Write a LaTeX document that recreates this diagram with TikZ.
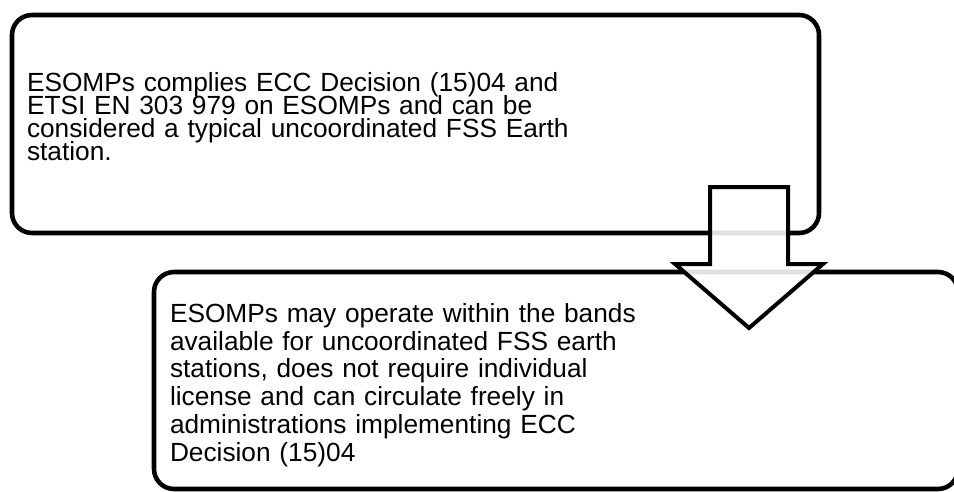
\documentclass[tikz,border=0pt]{standalone}
\usepackage{fontspec}
\setmainfont{Liberation Sans}
\usetikzlibrary{positioning}

\tikzset{
  infobox/.style={draw=black, line width=3.4pt, rounded corners=15pt, fill=white,
    outer sep=0pt, anchor=north west, align=left},
  downarrow/.style={draw=black, line width=3pt, fill=white, fill opacity=0.88}
}

\begin{document}
\begin{tikzpicture}[x=0.75pt,y=-0.75pt]
  \useasboundingbox (0,0) rectangle (954,492);
  % Place nodes
  \node [infobox, minimum width=605.25pt, minimum height=163.5pt,
         inner xsep=11.25pt, text width=582.75pt, text depth=63.75pt,
         font={\fontsize{19.7pt}{17.25pt}\selectfont\lineskiplimit=-20pt}]
        (top) at (12,15)
        {ESOMPs complies ECC Decision (15)04 and\\
         ETSI EN 303 979 on ESOMPs and can be\\
         considered a typical uncoordinated FSS Earth\\
         station.};
  \node [infobox, minimum width=603pt, minimum height=162.75pt,
         inner xsep=12pt, text width=579pt, text height=21pt,
         font={\fontsize{19.7pt}{20.85pt}\selectfont\lineskiplimit=-20pt}]
        (bottom) at (154,272)
        {ESOMPs may operate within the bands\\
         available for uncoordinated FSS earth\\
         stations, does not require individual\\
         license and can circulate freely in\\
         administrations implementing ECC\\
         Decision (15)04};

  % block arrow from top box down to bottom box
  \draw [downarrow] (710,187) -- (788,187) -- (788,264) -- (823,264)
        -- (749,328) -- (675,264) -- (710,264) -- cycle;
\end{tikzpicture}
\end{document}
